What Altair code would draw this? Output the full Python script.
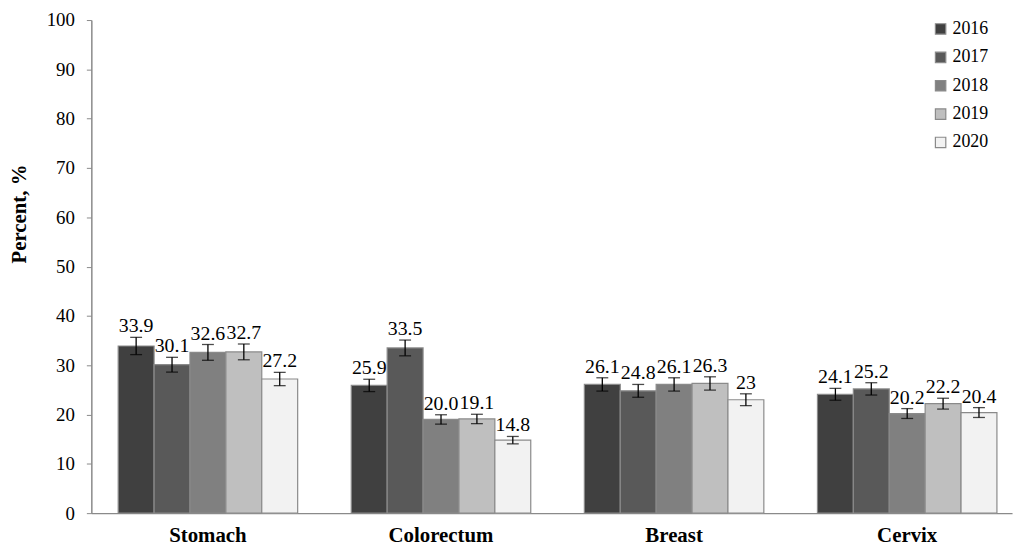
import altair as alt
import pandas as pd

sites = ["Stomach", "Colorectum", "Breast", "Cervix"]
years = ["2016", "2017", "2018", "2019", "2020"]
colors = ["#404040", "#595959", "#808080", "#bfbfbf", "#f2f2f2"]

stomach = [33.9, 30.1, 32.6, 32.7, 27.2]
colorectum = [25.9, 33.5, 19.0, 19.1, 14.8]
breast = [26.1, 24.8, 26.1, 26.3, 23.0]
cervix = [24.1, 25.2, 20.2, 22.2, 20.4]

stomach_labels = ["33.9", "30.1", "32.6", "32.7", "27.2"]
colorectum_labels = ["25.9", "33.5", "20.0", "19.1", "14.8"]
breast_labels = ["26.1", "24.8", "26.1", "26.3", "23"]
cervix_labels = ["24.1", "25.2", "20.2", "22.2", "20.4"]

stomach_err = [1.75, 1.5, 1.6, 1.6, 1.35]
colorectum_err = [1.25, 1.6, 0.95, 0.95, 0.75]
breast_err = [1.35, 1.3, 1.35, 1.35, 1.2]
cervix_err = [1.2, 1.25, 1.0, 1.1, 1.0]

series = {
    "Stomach": (stomach, stomach_labels, stomach_err),
    "Colorectum": (colorectum, colorectum_labels, colorectum_err),
    "Breast": (breast, breast_labels, breast_err),
    "Cervix": (cervix, cervix_labels, cervix_err),
}

rows = []
for s in sites:
    vals, labs, errs = series[s]
    for y, v, l, e in zip(years, vals, labs, errs):
        rows.append({"site": s, "year": y, "value": v, "label": l,
                     "lo": v - e, "hi": v + e})
df = pd.DataFrame(rows)

FONT = "'Liberation Serif', 'Times New Roman', serif"

x = alt.X("site:N", sort=sites,
          scale=alt.Scale(paddingInner=0.23, paddingOuter=0.09, align=0.64),
          axis=alt.Axis(title=None, labelFont=FONT, labelFontSize=21,
                        labelFontWeight="bold", labelColor="black",
                        labelAngle=0, ticks=False, labelPadding=12,
                        domainColor="#8a8a8a", domainWidth=1.5))
xo = alt.XOffset("year:N", sort=years,
                 scale=alt.Scale(paddingInner=0, paddingOuter=0))

y_axis = alt.Axis(title="Percent, %", titleFont=FONT, titleFontSize=21,
                  titleFontWeight="bold", titleColor="black",
                  titleX=-72, titleY=195, titleAlign="center",
                  titleBaseline="middle", titleAngle=270,
                  labelFont=FONT, labelFontSize=19, labelColor="black",
                  values=list(range(0, 101, 10)), grid=False,
                  tickSize=5, tickColor="#8a8a8a", domainColor="#8a8a8a",
                  domainWidth=1.5, labelPadding=12)

base = alt.Chart(df)

bars = base.mark_bar(stroke="#8a8a8a", strokeWidth=1.2).encode(
    x=x, xOffset=xo,
    y=alt.Y("value:Q", scale=alt.Scale(domain=[0, 100], nice=False), axis=y_axis),
    fill=alt.Fill("year:N", sort=years,
                  scale=alt.Scale(domain=years, range=colors),
                  legend=alt.Legend(title=None, orient="none",
                                    legendX=847, legendY=0,
                                    symbolType="square", symbolSize=110,
                                    symbolStrokeColor="#8a8a8a",
                                    symbolStrokeWidth=1.2,
                                    labelFont=FONT, labelFontSize=18,
                                    labelColor="black", rowPadding=10.6,
                                    labelOffset=3)),
)

rule = base.mark_rule(color="black", strokeWidth=1.3).encode(
    x=x, xOffset=xo, y="lo:Q", y2="hi:Q")

cap_hi = base.mark_tick(color="black", size=12, thickness=1.3).encode(
    x=x, xOffset=xo, y="hi:Q")
cap_lo = base.mark_tick(color="black", size=12, thickness=1.3).encode(
    x=x, xOffset=xo, y="lo:Q")

text = base.mark_text(font=FONT, fontSize=20, color="black",
                      baseline="bottom", dy=-1).encode(
    x=x, xOffset=xo, y="hi:Q", text="label:N")

chart = alt.layer(bars, rule, cap_hi, cap_lo, text).properties(
    width=928, height=497,
    autosize=alt.AutoSizeParams(type="none"),
    padding={"left": 84, "top": 10, "right": 4, "bottom": 33},
).configure_view(stroke=None).configure_axis(domainCap="butt")

chart.save("out.html", embed_options={"renderer": "svg", "actions": False})
